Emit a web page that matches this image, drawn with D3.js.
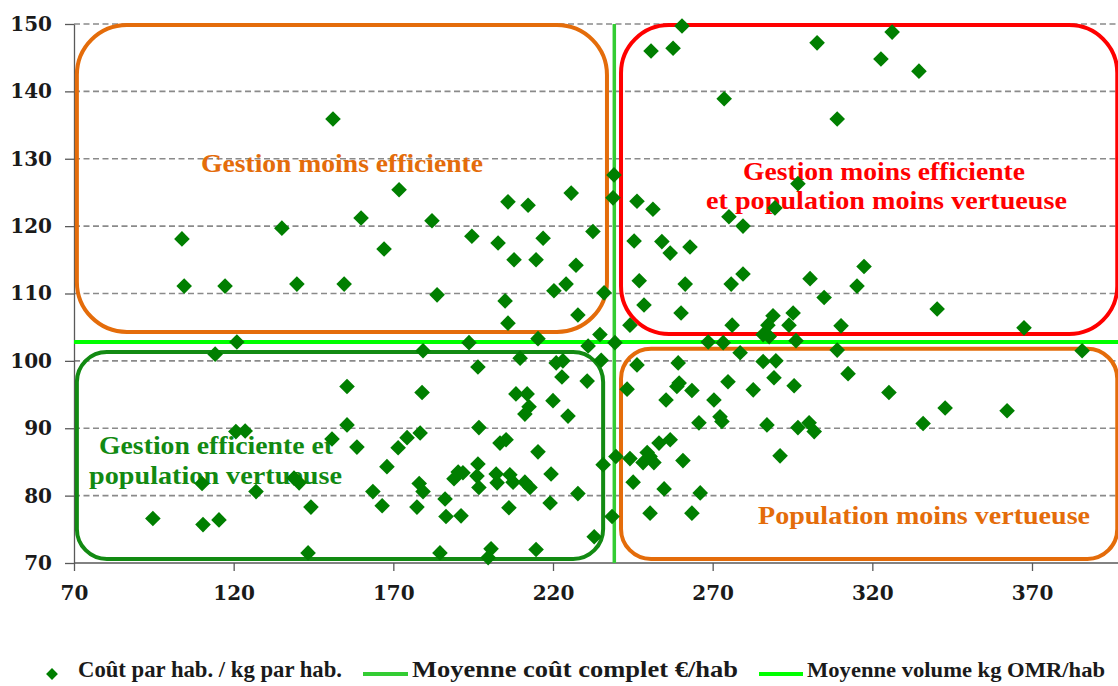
<!DOCTYPE html>
<html>
<head>
<meta charset="utf-8">
<script src="https://cdn.jsdelivr.net/npm/d3@7/dist/d3.min.js"></script>
<style>
  html, body { margin: 0; padding: 0; background: #fff; }
  svg { display: block; }
</style>
</head>
<body>
<svg id="chart" width="1118" height="686"></svg>
<script>
// ---------- data ----------
const costPerHab = [
  151.1,103.8,104.5,117.3,135.1,139.8,154.6,159.9,167.1,171.8,182.1,194.6,202.8,205.9,212.2,216.9,207.8,214.7,225.7,232.5,
  227.2,183.7,205.0,224.1,220.3,236.0,239.1,238.8,227.8,205.9,193.7,215.3,234.7,231.0,239.4,121.0,114.2,
  250.7,257.6,260.4,273.6,246.3,251.3,275.1,279.5,245.4,254.1,256.7,262.9,247.0,261.4,275.8,279.5,248.5,260.1,302.7,326.2,
  322.7,334.6,309.0,296.7,289.5,300.5,317.4,315.2,304.9,340.3,288.9,295.2,276.1,287.3,285.8,287.7,293.9,310.2,296.1,268.6,
  273.3,244.1,367.5,
  179.3,155.5,179.0,120.7,123.6,155.5,150.8,158.6,174.3,178.4,171.5,168.0,110.1,127.0,138.9,140.5,163.6,178.1,179.3,144.2,
  166.5,177.4,94.7,110.4,115.4,143.3,235.1,196.5,209.7,221.0,223.1,222.8,230.7,208.4,211.9,212.5,211.2,220.0,224.7,196.8,
  203.4,205.3,215.3,196.5,190.3,191.8,189.0,196.2,196.8,202.2,202.5,206.5,207.5,211.2,212.8,219.4,186.2,206.2,219.1,227.8,
  186.5,191.2,235.7,238.5,232.9,184.6,200.6,199.7,214.7,
  239.7,244.1,243.2,246.3,245.1,249.5,248.2,251.6,250.4,253.2,256.7,255.4,258.8,259.5,263.5,259.2,260.7,254.8,250.4,263.5,
  266.1,265.7,270.4,272.3,272.9,274.8,278.6,285.8,289.8,282.7,289.2,295.5,287.0,296.7,300.2,301.8,291.1,312.4,325.2,335.9,
  342.8,362.2,385.7,309.0
];
const kgPerHab = [
  135.9,118.1,111.1,111.1,119.7,111.4,111.4,121.2,116.6,125.4,120.8,118.5,117.5,123.6,123.1,118.2,115.0,115.0,124.9,119.2,
  114.2,109.8,108.9,111.4,110.4,110.1,127.6,124.2,106.8,105.6,102.7,103.3,103.9,102.2,102.7,102.8,101.0,
  146.0,146.4,149.7,138.9,123.7,122.5,121.4,120.0,117.8,117.7,116.0,116.9,111.9,111.4,111.4,112.9,108.3,107.1,147.2,148.8,
  144.8,143.0,135.9,126.3,122.7,112.2,114.0,111.1,109.4,107.7,106.7,107.1,105.3,105.3,103.9,103.6,105.3,105.2,103.0,102.8,
  102.7,105.3,104.9,
  101.5,96.2,95.3,89.5,89.6,90.5,88.4,87.2,88.6,89.3,87.1,84.3,81.8,80.6,82.6,81.9,80.6,81.8,80.6,78.3,
  78.5,78.3,76.6,75.7,76.4,71.5,100.1,99.1,100.4,99.7,100.0,97.6,97.0,95.1,95.1,93.2,92.1,94.1,91.8,90.1,
  87.8,88.3,86.5,84.7,83.5,83.4,82.5,82.9,81.2,83.2,81.9,83.1,82.0,82.0,81.2,83.2,79.5,78.2,78.9,80.3,
  76.9,77.0,84.6,76.9,73.9,71.5,72.1,70.8,72.0,
  85.8,85.5,95.8,99.4,82.0,86.4,84.9,84.9,85.8,87.8,88.3,94.2,96.2,96.7,95.6,99.7,85.2,81.0,77.4,77.4,
  80.4,90.8,94.2,91.7,91.0,96.9,101.2,99.9,100.0,95.7,97.5,96.3,90.5,90.1,90.8,89.5,85.9,98.1,95.3,90.7,
  93.0,92.6,101.5,101.6
];
const meanCost = 239.2;     // Moyenne coût complet €/hab
const meanVolume = 102.8;   // Moyenne volume kg OMR/hab
const xTicks = [70,120,170,220,270,320,370];
const yTicks = [70,80,90,100,110,120,130,140,150];
const seriesNames = ["Coût par hab. / kg par hab.", "Moyenne coût complet €/hab", "Moyenne volume kg OMR/hab"];
const quadrantLabels = [
  ["Gestion moins efficiente"],
  ["Gestion moins efficiente", "et population moins vertueuse"],
  ["Gestion efficiente et", "population vertueuse"],
  ["Population moins vertueuse"]
];

// ---------- layout ----------
const svg = d3.select("#chart");
const plotLeft = 74, plotTop = 24, plotBottom = 563;
const pxPerUnit = 958 / 300;
const x = d3.scaleLinear().domain([70, 420]).range([plotLeft, plotLeft + 350 * pxPerUnit]);
const y = d3.scaleLinear().domain([70, 150]).range([plotBottom, plotTop]);
const W = 1118;

const C = {
  point: "#007f00", meanCost: "#33cc33", meanVol: "#00ff00",
  orange: "#e46c0a", red: "#ff0000", green: "#128a12",
  grid: "#8a8a8a", axis: "#595959", text: "#1a1a1a"
};

// gridlines
svg.append("g").selectAll("line")
  .data(yTicks.filter(v => v > 70))
  .join("line")
  .attr("x1", plotLeft).attr("x2", W)
  .attr("y1", d => y(d)).attr("y2", d => y(d))
  .attr("stroke", C.grid).attr("stroke-width", 1.6)
  .attr("stroke-dasharray", "6,3.5");

// axes
const yAxis = svg.append("g").attr("transform", `translate(${plotLeft},0)`)
  .call(d3.axisLeft(y).tickValues(yTicks).tickSize(9).tickSizeOuter(0).tickPadding(13));
const xAxis = svg.append("g").attr("transform", `translate(0,${plotBottom})`)
  .call(d3.axisBottom(x).tickValues(xTicks).tickSize(8).tickSizeOuter(0).tickPadding(15));
[yAxis, xAxis].forEach(g => {
  g.select(".domain").attr("stroke", C.axis).attr("stroke-width", 1.3);
  g.selectAll(".tick line").attr("stroke", C.axis).attr("stroke-width", 1.3);
  g.selectAll(".tick text")
    .attr("fill", C.text)
    .style("font-family", "'DejaVu Serif', serif")
    .style("font-weight", "bold")
    .style("font-size", "20px");
});
xAxis.select(".domain").attr("d", `M${plotLeft},0H${W}`);

// quadrant boxes (in data units)
const boxes = [
  {x0: 70.9, x1: 236.9, y0: 149.85, y1: 104.3, r: 50, color: C.orange},
  {x0: 241.3, x1: 396.7, y0: 149.85, y1: 104.0, r: 48, color: C.red},
  {x0: 70.9, x1: 235.7, y0: 101.3, y1: 70.6, r: 30, color: C.green},
  {x0: 241.3, x1: 396.7, y0: 101.8, y1: 70.6, r: 30, color: C.orange}
];
svg.append("g").selectAll("rect").data(boxes).join("rect")
  .attr("x", d => x(d.x0)).attr("y", d => y(d.y0))
  .attr("width", d => x(d.x1) - x(d.x0)).attr("height", d => y(d.y1) - y(d.y0))
  .attr("rx", d => d.r).attr("ry", d => d.r)
  .attr("fill", "none").attr("stroke", d => d.color).attr("stroke-width", 4);

// quadrant labels
const labelSpecs = [
  {lines: quadrantLabels[0], color: C.orange, pos: [[201, 172, 282]]},
  {lines: quadrantLabels[1], color: C.red, pos: [[743, 180, 282], [706, 209, 361]]},
  {lines: quadrantLabels[2], color: C.green, pos: [[99, 454, 234], [89, 484, 253]]},
  {lines: quadrantLabels[3], color: C.orange, pos: [[758, 524, 332]]}
];
labelSpecs.forEach(s => {
  s.lines.forEach((t, i) => {
    svg.append("text")
      .attr("x", s.pos[i][0]).attr("y", s.pos[i][1])
      .attr("textLength", s.pos[i][2]).attr("lengthAdjust", "spacingAndGlyphs")
      .attr("fill", s.color)
      .style("font-family", "'Liberation Serif', serif")
      .style("font-weight", "bold").style("font-size", "26px")
      .text(t);
  });
});

// mean lines
svg.append("line")
  .attr("x1", plotLeft).attr("x2", W)
  .attr("y1", y(meanVolume)).attr("y2", y(meanVolume))
  .attr("stroke", C.meanVol).attr("stroke-width", 4);
svg.append("line")
  .attr("x1", x(meanCost)).attr("x2", x(meanCost))
  .attr("y1", y(150)).attr("y2", y(70))
  .attr("stroke", C.meanCost).attr("stroke-width", 3.5);

// points
const pts = costPerHab.map((c, i) => ({c, k: kgPerHab[i]}));
const diamond = d3.symbol().type(d3.symbolSquare).size(122);
svg.append("g").selectAll("path").data(pts).join("path")
  .attr("d", diamond)
  .attr("transform", d => `translate(${x(d.c)},${y(d.k)}) rotate(45)`)
  .attr("fill", C.point);

// legend
const lg = svg.append("g");
lg.append("path").attr("d", d3.symbol().type(d3.symbolSquare).size(70))
  .attr("transform", "translate(52,674) rotate(45)").attr("fill", C.point);
lg.append("line").attr("x1", 363).attr("x2", 408).attr("y1", 674).attr("y2", 674)
  .attr("stroke", C.meanCost).attr("stroke-width", 4);
lg.append("line").attr("x1", 759).attr("x2", 803).attr("y1", 674).attr("y2", 674)
  .attr("stroke", C.meanVol).attr("stroke-width", 4);
const legendText = [[78, 264], [412, 326], [807, 298]];
seriesNames.forEach((t, i) => {
  lg.append("text").attr("x", legendText[i][0]).attr("y", 677)
    .attr("fill", C.text)
    .attr("textLength", legendText[i][1]).attr("lengthAdjust", "spacingAndGlyphs")
    .style("font-family", "'Liberation Serif', serif")
    .style("font-weight", "bold").style("font-size", i === 2 ? "22px" : "24px")
    .text(t);
});
</script>
</body>
</html>
